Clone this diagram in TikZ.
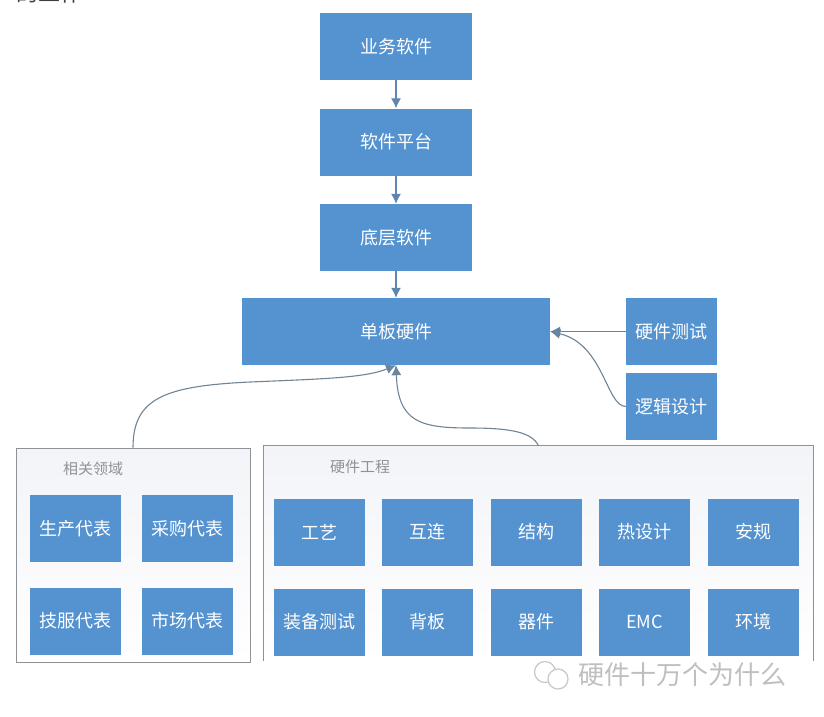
\documentclass[tikz,border=0pt]{standalone}
\usepackage{fontspec}
\setmainfont{Noto Sans CJK SC}
\usetikzlibrary{arrows.meta}
\definecolor{boxblue}{HTML}{5493D0}
\definecolor{framegray}{HTML}{8E9296}
\definecolor{frametop}{HTML}{F3F4F8}
\definecolor{tipblue}{HTML}{5F86AE}
\definecolor{curvegray}{HTML}{6F8596}
\tikzset{
	bigbox/.style={fill=boxblue, text=white, inner sep=0pt, minimum width=#1, minimum height=67pt, font=\fontsize{18}{21}\selectfont},
	bigbox/.default=91pt,
	frametitle/.style={text=framegray, inner sep=0pt, font=\fontsize{15}{18}\selectfont},
	framebox/.style={top color=frametop, middle color=white, bottom color=white, inner sep=0pt},
	arrowline/.style={-{Latex[length=10pt,width=10pt]}, line width=1.1pt, tipblue},
	curveline/.style={-{Latex[length=10pt,width=10pt,fill=tipblue]}, line width=1.1pt, curvegray}
}
\begin{document}
\begin{tikzpicture}[x=1pt, y=-1pt]
	\useasboundingbox (0,0) rectangle (824,716);
	\fill[white] (0,0) rectangle (824,716);
	%cut off line at the top
	\node[inner sep=0pt, anchor=west, text=black!75, font=\fontsize{22}{24}\selectfont] (cuttext) at (16,-7){的工作};
	
	%frames
	\node[framebox, draw=framegray, line width=1pt, minimum width=234pt, minimum height=214pt] (related) at (133, 555){};
	\node[framebox, minimum width=549pt, minimum height=215pt] (hardware) at (538.5, 553.5){};
	\draw[framegray, line width=1pt] (hardware.south west)--(hardware.north west)--(hardware.north east)--(hardware.south east);
	\node[frametitle] (relatedtitle) at (93, 469){相关领域};
	\node[frametitle] (hardwaretitle) at (360, 467){硬件工程};
	
	%software stack
	\node[bigbox=151.5pt] (business) at (396, 46.5){业务软件};
	\node[bigbox=151.5pt] (platform) at (396, 142){软件平台};
	\node[bigbox=151.5pt] (lowlevel) at (396, 237.5){底层软件};
	\node[bigbox=308pt] (board) at (396, 331.5){单板硬件};
	\node[bigbox] (hwtest) at (671.5, 331.5){硬件测试};
	\node[bigbox] (logic) at (671.5, 406.5){逻辑设计};
	
	%related fields
	\node[bigbox] (production) at (75.5, 528.5){生产代表};
	\node[bigbox] (purchase) at (187.5, 528.5){采购代表};
	\node[bigbox] (support) at (75.5, 621){技服代表};
	\node[bigbox] (market) at (187.5, 621){市场代表};
	
	%hardware engineering
	\node[bigbox] (process) at (319.5, 532){工艺};
	\node[bigbox] (interconnect) at (427.5, 532){互连};
	\node[bigbox] (structure) at (536, 532){结构};
	\node[bigbox] (thermal) at (644.5, 532){热设计};
	\node[bigbox] (safety) at (753, 532){安规};
	\node[bigbox] (equiptest) at (319.5, 622){装备测试};
	\node[bigbox] (backplane) at (427.5, 622){背板};
	\node[bigbox] (device) at (536, 622){器件};
	\node[bigbox] (emc) at (644.5, 622){EMC};
	\node[bigbox] (environment) at (753, 622){环境};
	
	%arrows
	\draw[arrowline] (business)--(platform);
	\draw[arrowline] (platform)--(lowlevel);
	\draw[arrowline] (lowlevel)--(board);
	\draw[arrowline] (hwtest)--(board);
	\draw[curveline] (logic.west) .. controls (606, 406) and (604, 344) .. (board.east);
	\draw[curveline] (related.north) .. controls (133, 398) and (165, 386) .. (250, 382) .. controls (320, 379) and (365, 378) .. (board.south);
	\draw[curveline] (hardware.north) .. controls (532, 432) and (510, 428) .. (470, 428) .. controls (420, 428) and (398, 422) .. (board.south);
	
	%watermark
	\node[inner sep=0pt, text=black!25, font=\fontsize{26}{29}\selectfont] (watermark) at (682.5, 675){硬件十万个为什么};
	\node[draw=black!22, line width=1.2pt, circle, minimum size=21pt, inner sep=0pt] (logobig) at (545, 672){};
	\node[draw=black!22, line width=1.2pt, fill=white, circle, minimum size=20pt, inner sep=0pt] (logosmall) at (558, 679){};
\end{tikzpicture}
\end{document}
